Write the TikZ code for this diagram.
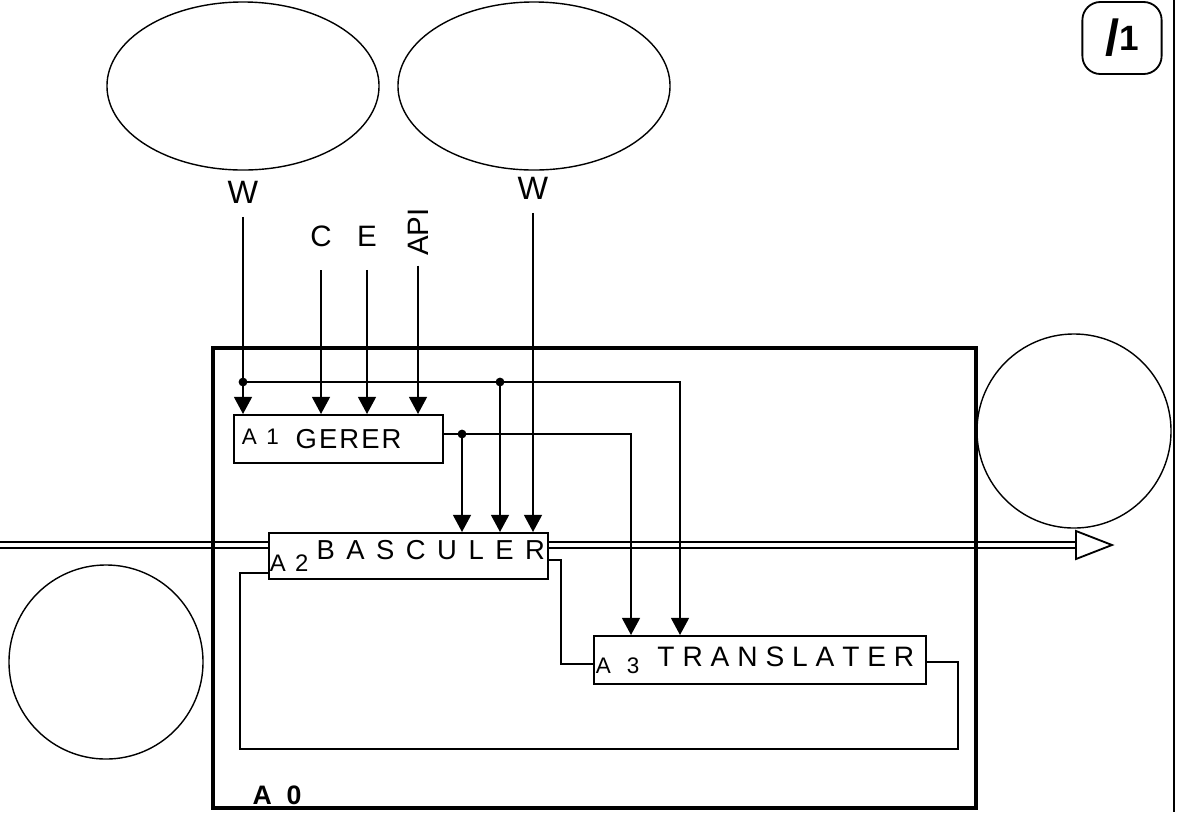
\documentclass[tikz,border=0pt]{standalone}
\usepackage{fontspec}
\setmainfont{Liberation Sans}
\usetikzlibrary{positioning,arrows.meta,calc,shapes.geometric}

\begin{document}
\begin{tikzpicture}[x=0.025cm,y=-0.025cm,line width=1.3pt,>={Triangle[width=0.45cm,length=0.43cm]},
  fn/.style={draw,anchor=north west,minimum height=1.2cm,inner ysep=0pt,align=left},
  lbl/.style={inner sep=2pt,font=\fontsize{21}{21}\selectfont},
  dot/.style={circle,fill,inner sep=0pt,minimum size=0.22cm},
  bub/.style={draw,line width=1pt,ellipse,minimum width=6.8cm,minimum height=4.2cm},
  rnd/.style={draw,line width=1pt,circle,minimum size=4.85cm}]
  \useasboundingbox (0,0) rectangle (1177,812);
  % page edge and sheet tag
  \draw[line width=2pt] (1174,0) -- (1174,812);
  \node[draw,rounded corners=0.45cm,minimum width=1.98cm,minimum height=1.8cm,font=\bfseries] (tag) at (1122,38)
    {\raisebox{-0.7ex}{\fontsize{36}{36}\selectfont /}\fontsize{25}{25}\selectfont 1};
  % outside bubbles
  \node[bub] (e1) at (243,86) {};
  \node[bub] (e2) at (534,86) {};
  \node[rnd] (c1) at (106,662) {};
  \node[rnd] (c2) at (1074,431) {};
  % boxes
  \node[fn,minimum width=5.225cm,text width=4.825cm,inner xsep=0.2cm] (a1) at (233,414)
    {\raisebox{2.5pt}{\fontsize{16}{16}\selectfont A\ \ 1}\hspace{0.42cm}\fontsize{19.5}{19.5}\selectfont G\kern1.5pt E\kern1.5pt R\kern1.5pt E\kern1.5pt R};
  \node[fn,minimum width=6.975cm,text width=6.925cm,inner xsep=0.025cm,minimum height=1.15cm] (a2) at (268,532)
    {\raisebox{-9pt}{\fontsize{17}{17}\selectfont A\ \ 2}\hspace{0.2cm}{\fontsize{19.5}{19.5}\selectfont\spaceskip=0.42em B A S C U L E R}};
  \node[fn,minimum width=8.3cm,text width=8.2cm,inner xsep=0.05cm] (a3) at (593,635)
    {\raisebox{-5pt}{\fontsize{16}{16}\selectfont A\hspace{0.4cm}3}\hspace{0.45cm}{\fontsize{20}{20}\selectfont\spaceskip=0.28em T R A N S L A T E R}};
  % through flow (under the frame)
  \coordinate (inl) at (0,545);
  \coordinate (outr) at (1076,545);
  \draw[double,double distance=0.1cm] (inl) -- (a2.west |- inl);
  \draw[double,double distance=0.1cm] (a2.east |- inl) -- (outr);
  \draw[fill=white] (outr) ++(0,-14) -- ++(36,14) -- ++(-36,14) -- cycle;
  % frame
  \draw[line width=3pt] (213,348) rectangle (976,808);
  \node[font=\bfseries\fontsize{19}{19}\selectfont] (a0) at (277,795) {A\ \ 0};
  % labels
  \node[lbl,font=\fontsize{23}{23}\selectfont] (lw1) at (243,192) {W};
  \node[lbl,font=\fontsize{23}{23}\selectfont] (lw2) at (533,188) {W};
  \node[lbl] (lc) at (321,236) {C};
  \node[lbl] (le) at (367,236) {E};
  \node[lbl,rotate=90] (lapi) at (418,232) {API};
  \foreach \l/\s in {lw1/0.25cm,lc/0.5cm,le/0.5cm,lapi/0.15cm}{\draw[->,shorten <=\s] (\l) -- (\l |- a1.north);}
  \draw[->,shorten <=0.25cm] (lw2) -- (lw2 |- a2.north);
  % branches
  \node[dot] (d1) at (243,382) {};
  \node[dot] (d2) at (500,382) {};
  \node[dot] (d3) at (462,434) {};
  \coordinate (k1) at (680,382);
  \coordinate (k2) at (631,434);
  \draw[->] (d1.center) -| (k1 |- a3.north);
  \draw[->] (d2.center) -- (d2 |- a2.north);
  \draw[->] (a1.east |- k2) -| (k2 |- a3.north);
  \draw[->] (d3.center) -- (d3 |- a2.north);
  % links between boxes
  \draw (a2.east |- 0,560) -- (561,560) |- (a3.west |- 0,664);
  \draw (a3.east |- 0,662) -- (958,662) |- (240,749) |- (a2.west |- 0,573);
\end{tikzpicture}
\end{document}
